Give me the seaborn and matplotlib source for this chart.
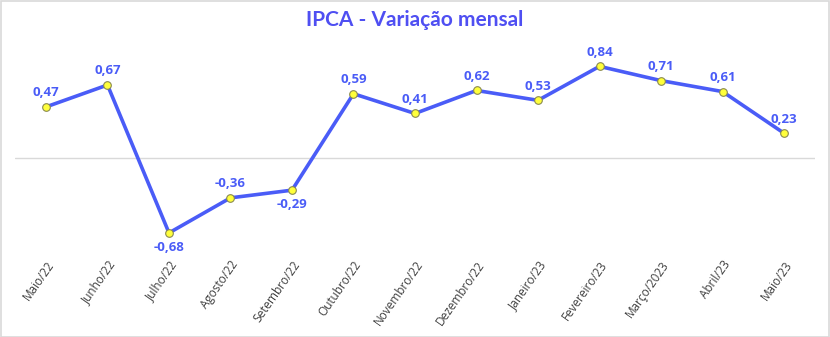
import matplotlib
matplotlib.use("Agg")
import matplotlib.pyplot as plt
import seaborn as sns
import pandas as pd
from matplotlib.patches import Rectangle

months = ["Maio/22", "Junho/22", "Julho/22", "Agosto/22", "Setembro/22", "Outubro/22",
          "Novembro/22", "Dezembro/22", "Janeiro/23", "Fevereiro/23", "Março/2023",
          "Abril/23", "Maio/23"]
values = [0.47, 0.67, -0.68, -0.36, -0.29, 0.59, 0.41, 0.62, 0.53, 0.84, 0.71, 0.61, 0.23]
label_above = [True, True, False, True, False, True, True, True, True, True, True, True, True]

sns.set_theme(style="white")
plt.rcParams['font.family'] = ['Open Sans', 'DejaVu Sans']

df = pd.DataFrame({"x": range(len(months)), "v": values})

W, H = 830, 337
fig = plt.figure(figsize=(W / 100, H / 100), dpi=100)
ax = fig.add_axes([15 / W, 1 - 250 / H, 800 / W, 205 / H])

line_color = "#4A5CF7"
ax.axhline(0, color="#D9D9D9", lw=1, zorder=1)
sns.lineplot(data=df, x="x", y="v", ax=ax, color=line_color, lw=2.6,
             marker="o", markersize=5.5, markerfacecolor="#FFFF3B",
             markeredgecolor="#8A8A50", markeredgewidth=0.8, zorder=3)

for i, (v, up) in enumerate(zip(values, label_above)):
    txt = f"{v:.2f}".replace(".", ",")
    ax.annotate(txt, (i, v), xytext=(0, 5.5 if up else -5.5), textcoords="offset points",
                ha="center", va="bottom" if up else "top", color="#4A5CF7",
                fontsize=9.5, fontweight="bold", family=["Open Sans", "DejaVu Sans"])

ax.set_xlim(-0.504, 12.504)
ax.set_ylim(-0.836, 1.035)
ax.set_xticks(range(len(months)))
ax.set_xticklabels(months, rotation=55, ha="right", rotation_mode="anchor",
                   fontsize=8.5, color="#404040")
ax.tick_params(axis="x", length=0, pad=6)
ax.set_yticks([])
ax.set_xlabel("")
ax.set_ylabel("")
for s in ax.spines.values():
    s.set_visible(False)

fig.text(0.5, 1 - 20 / H, "IPCA - Variação mensal", ha="center", va="center",
         fontsize=15, fontweight="bold", color="#4F4FF2", family=["Lato", "DejaVu Sans"])

fig.patches.append(Rectangle((0.5 / W, 0.5 / H), 1 - 1.5 / W, 1 - 1.5 / H,
                             transform=fig.transFigure, fill=False,
                             edgecolor="#D9D9D9", lw=1.2))

fig.savefig("out.png", dpi=100)
